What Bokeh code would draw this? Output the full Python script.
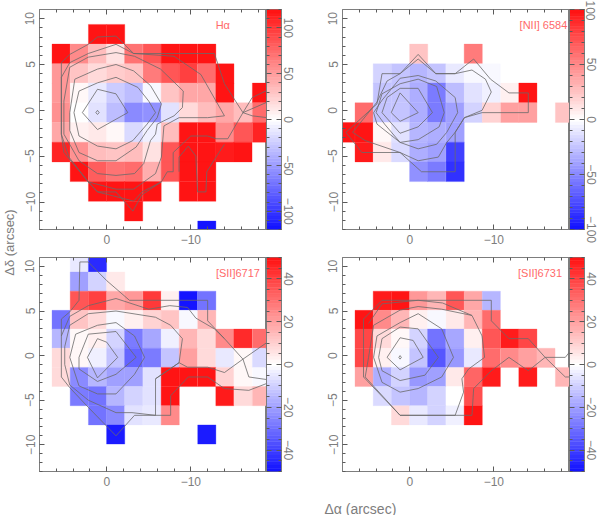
import numpy as np
from bokeh.plotting import figure
from bokeh.layouts import row, column
from bokeh.models import Range1d, LinearAxis, FixedTicker, LinearColorMapper, ColumnDataSource
from bokeh.core.properties import value
from bokeh.embed import file_html
from bokeh.resources import INLINE

N = None
VMAX = [120, 100, 50, 50]
TITLES = ["H\u03b1", "[NII] 6584", "[SII]6717", "[SII]6731"]
X_CELLS = [7.6, 5.43, 3.27, 1.1, -1.06, -3.2, -5.4, -7.55, -9.7, -11.9, -14.05, -16.2, -18.4]
Y_CELLS = [10.45, 8.3, 6.15, 4.0, 1.9, -0.25, -2.4, -4.55, -6.7, -8.85, -11.0, -13.15]

HA = [
 [N]*13,
 [N,N,N,120,120,N,N,N,N,N,N,N,N],
 [N,120,60,35,15,70,85,120,120,120,N,N,N],
 [N,50,30,20,25,30,65,85,95,75,120,N,N],
 [N,50,5,-12,-25,-35,-5,30,45,45,120,N,120],
 [N,55,0,-15,-35,-60,-55,-15,20,35,45,35,75],
 [N,45,8,12,3,-18,-8,35,120,120,60,85,110],
 [N,110,55,35,30,35,15,85,120,120,115,120,N],
 [N,N,120,80,70,75,40,85,120,120,N,N,N],
 [N,N,N,120,120,120,120,N,120,120,N,N,N],
 [N,N,N,N,N,120,N,N,N,N,N,N,N],
 [N,N,N,N,N,N,N,N,N,-120,N,N,N],
]
NII = [
 [N]*13,
 [N]*13,
 [N,N,N,N,25,N,N,55,N,N,N,N,N],
 [N,N,-20,-25,-30,-25,-10,-3,-4,N,N,N,N],
 [N,N,-25,-25,-35,-55,-28,-12,-5,5,100,N,N],
 [N,60,-25,-25,-35,-55,-40,-20,20,40,40,N,25],
 [100,100,2,-12,-30,-35,-40,N,N,N,N,N,N],
 [N,95,10,-15,-35,-40,-80,N,N,N,N,N,N],
 [N,N,N,N,-45,-55,-85,N,N,N,N,N,N],
 [N]*13,
 [N]*13,
 [N]*13,
]
SII17 = [
 [N,N,-5,-45,N,N,N,N,N,N,N,N,N],
 [N,N,-20,-10,5,N,N,N,N,N,N,N,N],
 [N,N,35,40,18,22,42,3,-50,-30,N,N,N],
 [N,-30,12,7,-2,3,10,12,-2,15,N,N,N],
 [N,-15,2,3,-10,-27,-18,-3,16,7,25,45,30],
 [N,8,1,-3,-13,-33,-28,-12,20,8,-5,2,-8],
 [N,8,-25,-15,-20,-20,-6,50,50,50,10,2,-2],
 [N,N,-27,-30,-16,-10,-6,50,N,N,48,7,15],
 [N,N,N,-30,-25,-6,-5,25,N,N,N,N,N],
 [N,N,N,N,-48,N,N,N,N,-48,N,N,N],
 [N]*13,
 [N]*13,
]
SII31 = [
 [N]*13,
 [N]*13,
 [N,N,48,50,22,15,35,18,-15,N,N,N,N],
 [N,50,25,15,3,-1,5,16,30,N,N,N,N],
 [N,38,8,1,-10,-30,-18,3,35,47,38,N,N],
 [N,38,3,-2,-13,-35,-22,-5,30,25,20,15,N],
 [N,20,-17,-10,-22,-20,5,32,47,N,47,N,15],
 [N,N,-8,-13,-16,-10,0,37,N,N,N,N,N],
 [N,N,N,8,-5,-10,-3,50,N,N,N,N,N],
 [N]*13,
 [N]*13,
 [N]*13,
]
PANELS = [HA, NII, SII17, SII31]

HA_CONTOURS = [
 [(5.4,-2.6),(5.4,5.2),(4.4,6.1),(2.2,7.2),(1.1,8.0),(-1.1,8.1),(-3.2,6.2),(-12.8,6.2),(-14,2.9),(-16.2,-0.25),(-19.1,0.9)],
 [(-16.2,-0.25),(-17.3,1.4),(-19.1,2.2)],
 [(-16.2,-0.25),(-17.3,-0.6),(-19.1,-0.8)],
 [(-16.2,-0.25),(-14.4,-3.1),(-13,-3.1),(-12,-2.8),(-10,-2.8),(-8.6,-4),(-7.9,-4.6),(-7.9,-6.7),(-7.2,-6.7),(-6.5,-7.8),(-4.2,-9.2),(-3.1,-11),(-1.1,-8.9),(1.1,-8.9),(2.2,-7.8),(5.1,-4.6),(5.4,-2.6)],
 [(5.4,3.6),(4.4,5.2),(2.2,6.2),(-1.1,7.2),(-3.2,6.2),(-8,5.9),(-11.2,3.9),(-13,1),(-14,-0.6),(-12,-0.8),(-8.6,-0.8),(-6.8,-1.7),(-6.5,-5.1),(-5.8,-6.9),(-3.2,-8.6),(-1.1,-8.6),(2.2,-7.8),(4.5,-5.1),(5.4,-2.6),(5.4,3.6)],
 [(5.1,1),(4.4,4.7),(2.2,5.8),(-1.1,6.3),(-3.3,5.9),(-6.4,4.5),(-9.1,2.1),(-9,0.3),(-8,-0.6),(-6,-1.5),(-5.8,-2.6),(-5.2,-3.3),(-4.4,-5.8),(-3.3,-6.9),(-1.1,-7.1),(1.1,-6.9),(3.3,-5.5),(5.1,-2.6),(5.1,1)],
 [(4.4,-0.25),(3.8,3.4),(1.1,4.5),(-1.1,5),(-3.2,4.3),(-5.2,2.7),(-6.5,0.7),(-6,-0.8),(-4.8,-2.2),(-3.5,-4),(-1.1,-5.5),(1.1,-5.5),(3.3,-4.6),(4.4,-2.2),(4.4,-0.25)],
 [(3.9,-0.25),(3.3,2.1),(1.1,3),(-1.1,3.6),(-3.7,2.5),(-5,1),(-5.8,-0.25),(-4.8,-1.5),(-3.1,-3.3),(-1.1,-4.2),(1.1,-3.9),(3.3,-2.8),(3.9,-0.25)],
 [(2.9,-0.25),(1.1,2.3),(-1.1,1.8),(-2.5,-0.25),(1.1,-2.1),(2.9,-0.25)],
 [(1.3,-0.25),(1.1,0),(0.9,-0.25),(1.1,-0.45),(1.3,-0.25)],
 [(-8.6,-6.7),(-8.6,-5.1),(-9.7,-3.9),(-10.6,-5),(-10.8,-8.9),(-11.8,-8.9),(-11.9,-6.7),(-13,-5.1),(-14,-3.7)],
 [(2.2,-7.8),(1.1,-8.9),(-3.2,-9.9),(-4.2,-8.9),(-6.5,-7.8)],
]
NII_CONTOURS = [
 [(3.3,4),(1.15,4),(-1,6.1),(-3.1,4),(-5.4,4),(-7.6,5.6),(-9.6,3.4),(-11.8,1.9),(-14.1,1.9),(-14.1,-0.25),(-8.6,-0.25),(-6.5,-0.8),(-5.4,-2.4),(-5.4,-6.7),(-1.4,-6.7),(1.15,-4.6),(5.7,-4.6),(7.6,-2.4),(3.9,0.7),(3.3,4)],
 [(6.8,-2.4),(5.3,-3.3),(1.15,-4.6),(-1,-5.5),(-3.4,-5.1),(-4.4,-3.5),(-5.4,-2.4),(-6.5,-0.8),(-8.6,0),(-9.7,2),(-9,3.4),(-7.4,4.4),(-5.4,4),(-3.1,4),(-1,5.6),(1.15,4),(2.7,3.2),(3.9,0.9),(6.8,-2.4)],
 [(4.3,-0.25),(3.3,1.1),(1.15,3.5),(-1,3.8),(-3.1,3.2),(-5.4,1.4),(-5.7,-0.25),(-4.4,-2.4),(-3.2,-3.7),(-1,-4.2),(1.15,-3.5),(3.9,-1.5),(4.3,-0.25)],
 [(4,-0.25),(3.3,1.8),(1.15,2.9),(-1,3.4),(-3.2,2.6),(-4.1,-0.25),(-3.5,-1.8),(-1,-3.2),(1.15,-3.5),(3,-1.5),(4,-0.25)],
 [(3.3,-0.25),(2.7,1.4),(1.15,2.4),(-1,2.4),(-2.7,-0.25),(-1,-1.8),(1.15,-2.5),(3.3,-0.25)],
 [(2.2,-0.25),(1.15,1.9),(-1,-0.25),(1.15,-1.2),(2.2,-0.25)],
]
SII17_CONTOURS = [
 [(3.2,10.5),(2.2,10.5),(0,8.4),(-2.7,6.2),(-12,6.2),(-12,3.9),(-14,1.9),(-16.2,-0.4),(-16.9,-2.4),(-19.1,-2.7)],
 [(3.2,10.5),(3.3,6.2),(4.4,4.9),(5.4,4.1),(5.4,-2.4),(4.4,-3.6),(2.2,-5.8),(-1.1,-9),(-3.3,-6.7),(-7.6,-6.7),(-7.6,-4.5),(-9.7,-2.4),(-12,-2.4),(-14,-3.7),(-16.9,-3.9),(-19.1,-3.1)],
 [(-5.8,-2.6),(-8.6,-0.8),(-9.6,-1.3),(-12,-1.3),(-14,-1.9),(-16.2,-0.4),(-19.1,1.5)],
 [(5,-1),(5,1),(4.4,3.4),(2.2,4.7),(-1.1,5),(-5.8,4.3),(-7.6,3.4),(-9,1.9),(-8.6,-0.8),(-5.8,-2.6),(-5.8,-6.7),(-3,-6.4),(-1.1,-6.4),(2.2,-5),(4.4,-3.3),(5,-1)],
 [(5.4,2.2),(4.4,4.4),(2.2,5.6),(-1.1,6.4),(-5,5.2),(-7.5,5.6),(-9.6,5.4),(-10.6,4.2),(-12.8,3),(-14,1.9)],
 [(4.4,-0.2),(3.7,2.4),(1.1,3.4),(-1.1,3.7),(-3.3,2.2),(-4.5,-0.2),(-3.3,-2.1),(-1.1,-4.3),(1.1,-4.3),(3.3,-3.4),(4.4,-0.2)],
 [(3.3,-0.2),(2.2,2.4),(-1.1,2.7),(-3.5,-0.2),(-1.1,-2.1),(1.1,-2.9),(3.3,-1.5),(3.3,-0.2)],
 [(2.3,-0.2),(1.1,1.9),(0,1.5),(-1.3,-0.2),(1.1,-2.5),(2.3,-0.2)],
]
SII31_CONTOURS = [
 [(5.5,-2.4),(5.5,4.1),(3.3,6.2),(-3.6,6.2),(-9.7,6.2),(-9.7,3.9),(-11.8,1.9),(-14.1,1.9),(-16.1,-0.2),(-18.5,-0.2),(-19,0.4)],
 [(-19,-2.4),(-18.5,-2.4),(-16.1,-0.2),(-14.1,-1.7),(-11.8,-0.2),(-9.7,-1.7),(-7.6,-3.7),(-7.4,-6.7),(1.15,-6.7),(5.5,-2.4)],
 [(4.9,-0.2),(4.3,3.4),(1.15,5.1),(-1,5.5),(-3.8,5.2),(-7.4,4.5),(-8.6,2.2),(-8.9,-0.2),(-7,-1.5),(-6.2,-2.6),(-6.4,-4.1),(-5.4,-6.7),(1.15,-6.7),(5.3,-2.4),(4.9,-0.2)],
 [(4.9,3.6),(3.3,5.8),(-1,6.2),(-3.9,5.9),(-7.4,4.5)],
 [(4.3,-0.2),(3.9,2.2),(1.15,3.7),(-1,4.7),(-3.8,3),(-5.2,-0.2),(-3.8,-2.4),(-1,-3.7),(1.15,-4.1),(3.3,-3),(4.3,-0.2)],
 [(3.7,-0.2),(3.3,1.9),(1.15,3.2),(-1,3),(-3.4,-0.2),(-1.8,-2.2),(1.15,-2.8),(3.3,-1.7),(3.7,-0.2)],
 [(2.7,-0.2),(1.15,2),(-0.4,1.7),(-1.6,-0.2),(1.15,-1.6),(2.7,-0.2)],
 [(1.3,-0.2),(1.15,0),(1,-0.2),(1.15,-0.4),(1.3,-0.2)],
]
CONTOURS = [HA_CONTOURS, NII_CONTOURS, SII17_CONTOURS, SII31_CONTOURS]
TITLE_X = [-13.8, -15.9, -15.6, -15.5]
TITLE_Y = 9.3

X_MAJOR = [0, -10]
X_MINOR = [6, 4, 2, -2, -4, -6, -8, -12, -14, -16, -18]
Y_MAJOR = [-10, -5, 0, 5, 10]
Y_MINOR = [-13, -12, -11, -9, -8, -7, -6, -4, -3, -2, -1, 1, 2, 3, 4, 6, 7, 8, 9]
CB_MAJOR = [[-100, -50, 0, 50, 100], [-100, -50, 0, 50, 100], [-40, -20, 0, 20, 40], [-40, -20, 0, 20, 40]]
CB_STEP = [10, 10, 5, 5]
CB_LEVELS = 65

FONT = "Liberation Sans"
GRAY = "#7d7d7d"
TICK = "#5a5a5a"
CONTOUR = "#6a6a6a"
PINK = "#ff6a6a"


def shade(t):
    s = int(round(255 - 235 * abs(t)))
    return "#ff%02x%02x" % (s, s) if t >= 0 else "#%02x%02xff" % (s, s)


PALETTE = [shade(t) for t in np.linspace(-1, 1, CB_LEVELS)]


def style_axis(ax, labels=True):
    ax.axis_line_color = GRAY
    ax.major_tick_line_color = TICK
    ax.minor_tick_line_color = TICK
    ax.major_tick_in = 5
    ax.major_tick_out = 0
    ax.minor_tick_in = 3
    ax.minor_tick_out = 0
    ax.major_label_text_font = FONT
    if labels:
        ax.major_label_text_color = GRAY
        ax.major_label_text_font_size = "12px"
    else:
        ax.major_label_text_color = None
        ax.major_label_text_font_size = "1px"
        ax.major_label_standoff = 0


def panel(i, width, height, left, top, bottom):
    vmax = VMAX[i]
    mapper = LinearColorMapper(palette=PALETTE, low=-vmax, high=vmax)
    xs, ys, vs = [], [], []
    for yc, vals in zip(Y_CELLS, PANELS[i]):
        for xc, v in zip(X_CELLS, vals):
            if v is not None:
                xs.append(xc); ys.append(yc); vs.append(v)
    src = ColumnDataSource(dict(x=xs, y=ys, v=vs))
    p = figure(width=width, height=height, x_range=Range1d(8, -19), y_range=Range1d(-13, 11),
               output_backend="svg", toolbar_location=None, min_border_left=left, min_border_right=0,
               min_border_top=top, min_border_bottom=bottom, outline_line_color=GRAY, background_fill_color="white")
    p.grid.visible = False
    fill = {"field": "v", "transform": mapper}
    p.rect("x", "y", 2.16, 2.15, source=src, fill_color=fill, line_color=fill, line_width=0.3)
    for c in CONTOURS[i]:
        p.line([a for a, _ in c], [b for _, b in c], line_color=CONTOUR, line_width=0.8)
    p.text([TITLE_X[i]], [TITLE_Y], text=[TITLES[i]], text_color=PINK, text_font=value(FONT),
           text_font_size="11px", text_align="center", text_baseline="middle")
    xt = FixedTicker(ticks=X_MAJOR, minor_ticks=X_MINOR)
    yt = FixedTicker(ticks=Y_MAJOR, minor_ticks=Y_MINOR)
    p.xaxis.ticker = xt
    p.yaxis.ticker = yt
    for ax in p.xaxis + p.yaxis:
        style_axis(ax)
        ax.major_label_standoff = 5
    p.yaxis.major_label_orientation = "vertical"
    top_ax = LinearAxis(ticker=xt)
    style_axis(top_ax, False)
    p.add_layout(top_ax, "above")
    return p


def colorbar(i, width, height, top, bottom, right):
    vmax = VMAX[i]
    mapper = LinearColorMapper(palette=PALETTE, low=-vmax, high=vmax)
    edges = np.linspace(-vmax, vmax, CB_LEVELS + 1)
    src = ColumnDataSource(dict(b=edges[:-1], t=edges[1:], m=(edges[:-1] + edges[1:]) / 2))
    p = figure(width=width, height=height, x_range=Range1d(0, 1), y_range=Range1d(-vmax, vmax),
               output_backend="svg", toolbar_location=None, min_border_left=0, min_border_right=right,
               min_border_top=top, min_border_bottom=bottom, outline_line_color=GRAY)
    p.grid.visible = False
    fill = {"field": "m", "transform": mapper}
    p.quad(left=0, right=1, bottom="b", top="t", source=src, fill_color=fill, line_color=fill, line_width=0.5)
    minor = [v for v in range(-vmax, vmax + 1, CB_STEP[i]) if v not in CB_MAJOR[i]]
    ticker = FixedTicker(ticks=CB_MAJOR[i], minor_ticks=minor)
    p.xaxis.visible = False
    p.yaxis.ticker = ticker
    style_axis(p.yaxis[0], False)
    r_ax = LinearAxis(ticker=ticker)
    style_axis(r_ax)
    r_ax.major_label_standoff = 2
    r_ax.major_label_orientation = "vertical"
    p.add_layout(r_ax, "right")
    return p


H1, H2 = 247, 248
p1 = panel(0, 246, H1, 19, 9, 18)
c1 = colorbar(0, 44, H1, 9, 18, 29)
p2 = panel(1, 259, H1, 32, 9, 18)
c2 = colorbar(1, 29, H1, 9, 18, 14)
p3 = panel(2, 246, H2, 19, 10, 24)
c3 = colorbar(2, 44, H2, 10, 24, 29)
p4 = panel(3, 259, H2, 32, 10, 24)
c4 = colorbar(3, 29, H2, 10, 24, 14)

TOTAL_H = 515
STRIP_H = TOTAL_H - H1 - H2

left = figure(width=20, height=TOTAL_H, x_range=Range1d(0, 1), y_range=Range1d(0, 1), output_backend="svg",
              toolbar_location=None, min_border=0, outline_line_color=None)
left.axis.visible = False
left.grid.visible = False
left.text([0.45], [0.53], text=["\u0394\u03b4 (arcsec)"], angle=np.pi / 2, text_color=GRAY,
          text_font=value(FONT), text_font_size="13px", text_align="center", text_baseline="middle")

bottom = figure(width=578, height=STRIP_H, x_range=Range1d(0, 1), y_range=Range1d(0, 1), output_backend="svg",
                toolbar_location=None, min_border=0, outline_line_color=None)
bottom.axis.visible = False
bottom.grid.visible = False
bottom.text([0.588], [0.35], text=["\u0394\u03b1 (arcsec)"], text_color=GRAY, text_font=value(FONT),
            text_font_size="14px", text_align="center", text_baseline="middle")

page = row(left, column(row(p1, c1, p2, c2), row(p3, c3, p4, c4), bottom))
open("out.html", "w").write(file_html(page, INLINE))
